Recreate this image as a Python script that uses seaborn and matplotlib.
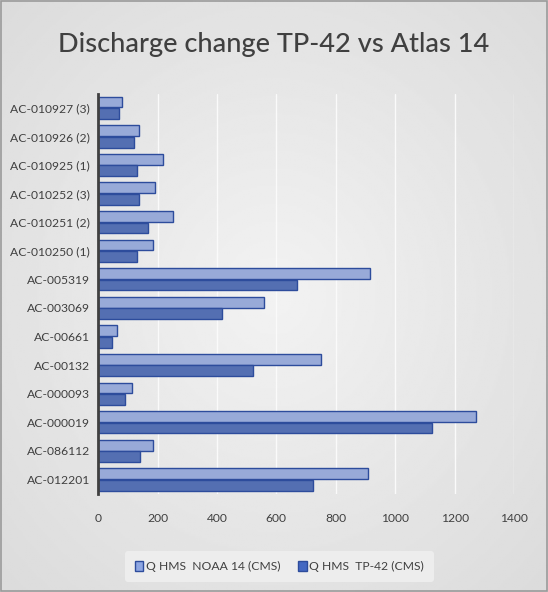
import numpy as np
import pandas as pd
import matplotlib
matplotlib.use("Agg")
import matplotlib.pyplot as plt
import seaborn as sns
from matplotlib.patches import Patch

categories = ["AC-010927 (3)", "AC-010926 (2)", "AC-010925 (1)", "AC-010252 (3)",
              "AC-010251 (2)", "AC-010250 (1)", "AC-005319", "AC-003069", "AC-00661",
              "AC-00132", "AC-000093", "AC-000019", "AC-086112", "AC-012201"]
noaa14 = [82, 138, 218, 192, 251, 186, 914, 559, 62, 750, 114, 1273, 184, 909]
tp42 = [72, 120, 130, 139, 167, 132, 671, 417, 48, 522, 90, 1123, 141, 722]
series = ["Q HMS  NOAA 14 (CMS)", "Q HMS  TP-42 (CMS)"]
xticks = [0, 200, 400, 600, 800, 1000, 1200, 1400]

df = pd.DataFrame({
    "cat": categories * 2,
    "val": noaa14 + tp42,
    "series": [series[0]] * len(categories) + [series[1]] * len(categories),
})

sns.set_theme(style="white")
plt.rcParams["font.family"] = ["Lato", "DejaVu Sans"]

fig = plt.figure(figsize=(5.48, 5.92), dpi=100)

# background gradient
bg = fig.add_axes([0, 0, 1, 1], zorder=-10)
yy, xx = np.mgrid[-1:1:300j, -1:1:300j]
r = np.sqrt(xx ** 2 + yy ** 2)
grad = 0.95 - 0.09 * np.clip(r / 1.4, 0, 1)
bg.imshow(grad, cmap="gray", vmin=0, vmax=1, extent=[0, 1, 0, 1], aspect="auto")
bg.add_patch(plt.Rectangle((0.002, 0.002), 0.996, 0.996, fill=False, ec="#9a9a9a", lw=1.2))
bg.set_axis_off()

ax = fig.add_axes([0.179, 0.166, 0.759, 0.676])
ax.patch.set_alpha(0)
light = "#8EA6E2"
dark = "#4468C2"
sns.barplot(data=df, y="cat", x="val", hue="series", orient="h",
            palette=[light, dark], width=0.8, gap=0.06, ax=ax,
            edgecolor="#2D4C9C", linewidth=1.0, legend=False)

ax.set_xlim(0, 1400)
ax.set_xticks(xticks)
ax.set_xticklabels([str(t) for t in xticks])
ax.set_xlabel("")
ax.set_ylabel("")
ax.tick_params(axis="both", length=0, labelsize=8.7, colors="#404040")
ax.tick_params(axis="x", pad=14)
ax.tick_params(axis="y", pad=6)
ax.grid(axis="x", color="#fafafa", lw=1.0)
ax.set_axisbelow(True)
for s in ["top", "right", "bottom"]:
    ax.spines[s].set_visible(False)
ax.spines["left"].set_color("#404040")
ax.spines["left"].set_linewidth(2)

fig.text(0.5, 0.925, "Discharge change TP-42 vs Atlas 14", ha="center", va="center",
         fontsize=19.5, color="#404040", fontweight="medium")

handles = [Patch(facecolor=light, edgecolor="#2D4C9C"), Patch(facecolor=dark, edgecolor="#2D4C9C")]
leg = fig.legend(handles, series, loc="center", bbox_to_anchor=(0.51, 0.043), ncol=2,
                 frameon=True, fontsize=8.7, handlelength=0.7, handleheight=0.9,
                 handletextpad=0.2, columnspacing=1.5, borderpad=0.8)
leg.get_frame().set_facecolor("#ededed")
leg.get_frame().set_edgecolor("none")
leg.get_frame().set_alpha(1)
for t in leg.get_texts():
    t.set_color("#404040")

fig.savefig("out.png", dpi=100)
